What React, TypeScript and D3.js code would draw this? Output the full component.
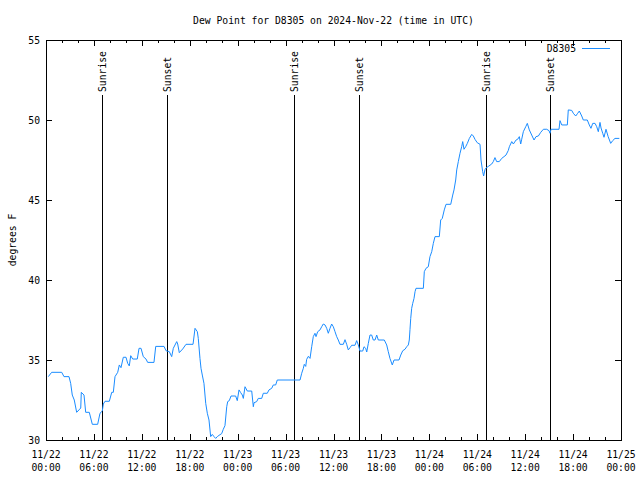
import React from 'react';
import * as d3 from 'd3';

// hours since 2024-11-22 00:00 UTC
const hours = [
  0.29, 0.71, 1.97, 2.25, 2.88, 3.09, 3.29, 3.54, 3.84, 4.13, 4.35, 4.42, 4.76, 4.97, 5.42, 5.80, 6.47, 6.76,
  7.05, 7.18, 7.39, 7.93, 8.23, 8.43, 8.64, 8.98, 9.18, 9.39, 9.68, 10.02, 10.23, 10.43, 10.61, 10.86, 11.43,
  11.65, 11.90, 12.18, 12.52, 12.73, 13.52, 13.74, 14.78, 15.03, 15.44, 15.74, 15.94, 16.37, 16.49, 16.69,
  17.12, 17.53, 18.41, 18.66, 18.95, 19.07, 19.28, 19.41, 19.57, 19.78, 20.0, 20.2, 20.41, 20.62, 20.82,
  21.04, 21.25, 21.45, 21.66, 22.0, 22.2, 22.41, 22.63, 22.75, 22.95, 23.17, 23.75, 23.95, 24.17, 24.38,
  24.58, 24.71, 24.92, 25.21, 25.76, 25.96, 26.05, 26.38, 26.58, 27.01, 27.21, 27.71, 27.92, 28.26, 28.46,
  28.76, 28.96, 31.81, 32.02, 32.22, 32.34, 32.52, 32.64, 32.85, 33.06, 33.27, 33.47, 33.68, 33.81, 34.02,
  34.31, 34.52, 34.72, 34.94, 35.15, 35.35, 35.56, 35.77, 35.98, 36.19, 36.40, 36.60, 36.81, 37.23, 37.44,
  37.65, 37.85, 38.07, 38.28, 38.69, 38.9, 39.11, 39.32, 39.66, 39.82, 40.03, 40.16, 40.36, 40.57, 40.78,
  40.98, 41.2, 41.41, 41.61, 42.36, 42.66, 42.86, 43.07, 43.36, 43.58, 44.2, 44.42, 44.67, 44.95, 45.17,
  45.37, 45.49, 45.58, 45.67, 45.79, 45.92, 46.08, 46.21, 46.33, 47.25, 47.37, 47.58, 47.87, 48.08, 48.3,
  48.5, 48.71, 49.25, 49.42, 49.62, 49.87, 50.09, 50.68, 50.93, 51.09, 51.3, 51.43, 51.63, 51.84, 52.05,
  52.18, 52.34, 52.55, 52.76, 53.01, 53.31, 53.51, 53.72, 54.0, 54.35, 54.47, 54.68, 54.8, 54.97, 55.1,
  55.39, 55.81, 56.01, 56.22, 56.43, 56.76, 57.06, 57.35, 57.6, 57.89, 58.02, 58.32, 58.52, 58.86, 59.07,
  59.27, 59.44, 59.57, 59.77, 60.07, 60.27, 60.52, 60.82, 61.11, 61.36, 61.65, 61.95, 62.28, 62.7, 62.99,
  63.11, 63.24, 64.24, 64.36, 64.58, 65.28, 65.4, 65.83, 66.03, 66.33, 66.58, 66.78, 67.08, 67.28, 67.78,
  68.03, 68.24, 68.46, 68.75, 68.96, 69.16, 69.37, 69.5, 69.71, 69.87, 70.12, 70.39, 70.71, 70.96, 71.25,
  71.79,
];

const dewPoint = [
  33.96, 34.23, 34.23, 33.96, 33.96, 33.54, 32.81, 32.5, 31.73, 31.88, 32.0, 32.98, 32.81, 31.73, 31.73, 30.98,
  30.98, 31.67, 31.81, 32.25, 32.42, 32.42, 32.98, 32.98, 33.96, 34.23, 34.69, 34.52, 35.17, 35.17, 34.79,
  34.63, 35.27, 35.06, 35.06, 35.73, 35.73, 35.21, 35.06, 34.85, 34.85, 35.85, 35.85, 35.58, 35.52, 35.21,
  35.73, 36.15, 36.0, 35.46, 35.69, 35.98, 35.98, 36.98, 36.77, 36.35, 35.1, 34.48, 34.06, 33.54, 32.29,
  31.67, 31.25, 30.21, 30.35, 30.21, 30.1, 30.21, 30.29, 30.4, 30.67, 30.9, 32.08, 32.4, 32.46, 32.75, 32.75,
  32.46, 33.13, 32.96, 32.81, 32.6, 33.33, 33.06, 33.06, 32.08, 32.33, 32.4, 32.6, 32.6, 32.92, 32.92, 33.13,
  33.23, 33.44, 33.44, 33.75, 33.75, 34.17, 34.48, 34.73, 34.6, 35.04, 35.23, 35.1, 35.83, 36.46, 36.67,
  36.46, 36.77, 36.88, 37.08, 37.25, 37.19, 36.98, 36.67, 36.98, 37.25, 37.08, 36.77, 36.46, 36.25, 35.98,
  35.98, 36.27, 35.98, 35.63, 35.77, 35.92, 35.92, 36.21, 35.94, 35.56, 35.56, 35.83, 35.73, 35.5, 36.04,
  36.56, 36.56, 36.25, 36.25, 36.56, 36.25, 36.25, 35.94, 35.52, 35.1, 34.69, 35.0, 35.0, 35.31, 35.58,
  35.67, 35.83, 35.94, 36.25, 36.92, 37.6, 38.23, 38.54, 38.85, 39.27, 39.48, 39.48, 40.52, 40.73, 40.83,
  41.46, 41.77, 42.29, 42.71, 42.71, 43.75, 43.85, 44.38, 44.73, 44.73, 45.31, 45.63, 46.25, 46.88, 47.4,
  47.92, 48.33, 48.65, 48.17, 48.33, 48.54, 48.85, 49.1, 49.0, 48.79, 48.58, 48.48, 47.5, 46.77, 46.5, 46.9,
  47.0, 47.1, 47.25, 47.4, 47.65, 47.4, 47.4, 47.6, 47.71, 47.81, 48.1, 48.33, 48.65, 48.5, 48.75, 48.8,
  48.96, 48.5, 48.8, 49.27, 49.58, 49.79, 49.38, 49.06, 48.75, 48.96, 49.0, 49.23, 49.42, 49.42, 49.33,
  49.17, 49.42, 49.42, 49.96, 49.69, 49.69, 50.63, 50.6, 50.42, 50.25, 50.42, 50.56, 50.25, 50.0, 50.0,
  49.69, 49.48, 49.79, 49.79, 49.58, 49.27, 49.85, 49.5, 49.17, 48.92, 49.42, 48.96, 48.54, 48.71, 48.85,
  48.85,
];

const sunriseHours = [7.05, 31.09, 55.12];
const sunsetHours = [15.19, 39.23, 63.15];

const xTickDates = ['11/22', '11/22', '11/22', '11/22', '11/23', '11/23', '11/23', '11/23', '11/24', '11/24', '11/24', '11/24', '11/25'];
const xTickTimes = ['00:00', '06:00', '12:00', '18:00', '00:00', '06:00', '12:00', '18:00', '00:00', '06:00', '12:00', '18:00', '00:00'];
const yTickValues = [30, 35, 40, 45, 50, 55];

const TITLE = 'Dew Point for D8305 on 2024-Nov-22 (time in UTC)';
const Y_LABEL = 'degrees F';
const SERIES = 'D8305';

const W = 640, H = 480;
const L = 46, R = 621, T = 40, B = 440;
const FONT = '"DejaVu Sans Mono", "Liberation Mono", monospace';
const CW = 5.85;
const LINE_COLOR = '#1a8cff';

const t0 = Date.UTC(2024, 10, 22, 0, 0);
const toDate = (h: number) => new Date(t0 + h * 3600 * 1000);

function Txt(props: any) {
  const { text, ...rest } = props;
  return (
    <text {...rest} textLength={text.length * CW} lengthAdjust="spacingAndGlyphs">
      {text}
    </text>
  );
}

export default function App() {
  const x = d3.scaleUtc().domain([toDate(0), toDate(72)]).range([L, R]);
  const y = d3.scaleLinear().domain([30, 55]).range([B, T]);

  const data = hours.map((h, i) => ({ d: toDate(h), v: dewPoint[i] }));
  const line = d3.line<{ d: Date; v: number }>().x((p) => x(p.d)).y((p) => y(p.v));

  const majorTicks = x.ticks(d3.utcHour.every(6)!);
  const minorTicks = x.ticks(d3.utcHour.every(2)!).filter((d) => d.getUTCHours() % 6 !== 0);

  const MAJ = 6, MIN = 3;
  const lineTop = 95;

  return (
    <svg width={W} height={H} style={{ position: 'absolute', left: 0, top: 0, background: '#fff' }} fontFamily={FONT} fontSize={11}>
      <rect x={0} y={0} width={W} height={H} fill="#fff" />
      <Txt text={TITLE} x={(L + R) / 2} y={24} textAnchor="middle" fill="#000" />
      <g shapeRendering="crispEdges" stroke="#000" strokeWidth={1}>
        {majorTicks.map((d, i) => (
          <g key={'M' + i}>
            <line x1={Math.round(x(d)) + 0.5} x2={Math.round(x(d)) + 0.5} y1={B} y2={B - MAJ} />
            <line x1={Math.round(x(d)) + 0.5} x2={Math.round(x(d)) + 0.5} y1={T} y2={T + MAJ} />
          </g>
        ))}
        {minorTicks.map((d, i) => (
          <g key={'m' + i}>
            <line x1={Math.round(x(d)) + 0.5} x2={Math.round(x(d)) + 0.5} y1={B} y2={B - MIN} />
            <line x1={Math.round(x(d)) + 0.5} x2={Math.round(x(d)) + 0.5} y1={T} y2={T + MIN} />
          </g>
        ))}
        {yTickValues.map((v) => (
          <g key={'y' + v}>
            <line x1={L} x2={L + MAJ} y1={Math.round(y(v)) + 0.5} y2={Math.round(y(v)) + 0.5} />
            <line x1={R - MAJ} x2={R} y1={Math.round(y(v)) + 0.5} y2={Math.round(y(v)) + 0.5} />
          </g>
        ))}
        {sunriseHours.concat(sunsetHours).map((h, i) => (
          <line key={'s' + i} x1={Math.round(x(toDate(h))) + 0.5} x2={Math.round(x(toDate(h))) + 0.5} y1={lineTop} y2={B} />
        ))}
        <rect x={L + 0.5} y={T + 0.5} width={R - L} height={B - T} fill="none" />
      </g>
      {sunriseHours.map((h, i) => {
        const px = Math.round(x(toDate(h))) + 4;
        return <Txt key={'sr' + i} text="Sunrise" x={0} y={0} transform={`translate(${px},${lineTop - 3}) rotate(-90)`} fill="#000" />;
      })}
      {sunsetHours.map((h, i) => {
        const px = Math.round(x(toDate(h))) + 4;
        return <Txt key={'ss' + i} text="Sunset" x={0} y={0} transform={`translate(${px},${lineTop - 3}) rotate(-90)`} fill="#000" />;
      })}
      {yTickValues.map((v) => (
        <Txt key={'yl' + v} text={String(v)} x={40} y={y(v) + 4} textAnchor="end" fill="#000" />
      ))}
      {majorTicks.map((d, i) => (
        <g key={'xl' + i}>
          <Txt text={xTickDates[i]} x={x(d)} y={458} textAnchor="middle" fill="#000" />
          <Txt text={xTickTimes[i]} x={x(d)} y={471} textAnchor="middle" fill="#000" />
        </g>
      ))}
      <Txt text={Y_LABEL} x={0} y={0} transform={`translate(16,${(T + B) / 2}) rotate(-90)`} textAnchor="middle" fill="#000" />
      <Txt text={SERIES} x={576} y={52} textAnchor="end" fill="#000" />
      <line x1={582} x2={610} y1={48.5} y2={48.5} stroke={LINE_COLOR} strokeWidth={1} shapeRendering="crispEdges" />
      <defs>
        <clipPath id="plotclip">
          <rect x={L} y={T} width={R - L} height={B - T} />
        </clipPath>
      </defs>
      <path d={line(data) || ''} fill="none" stroke={LINE_COLOR} strokeWidth={1} clipPath="url(#plotclip)" />
    </svg>
  );
}
